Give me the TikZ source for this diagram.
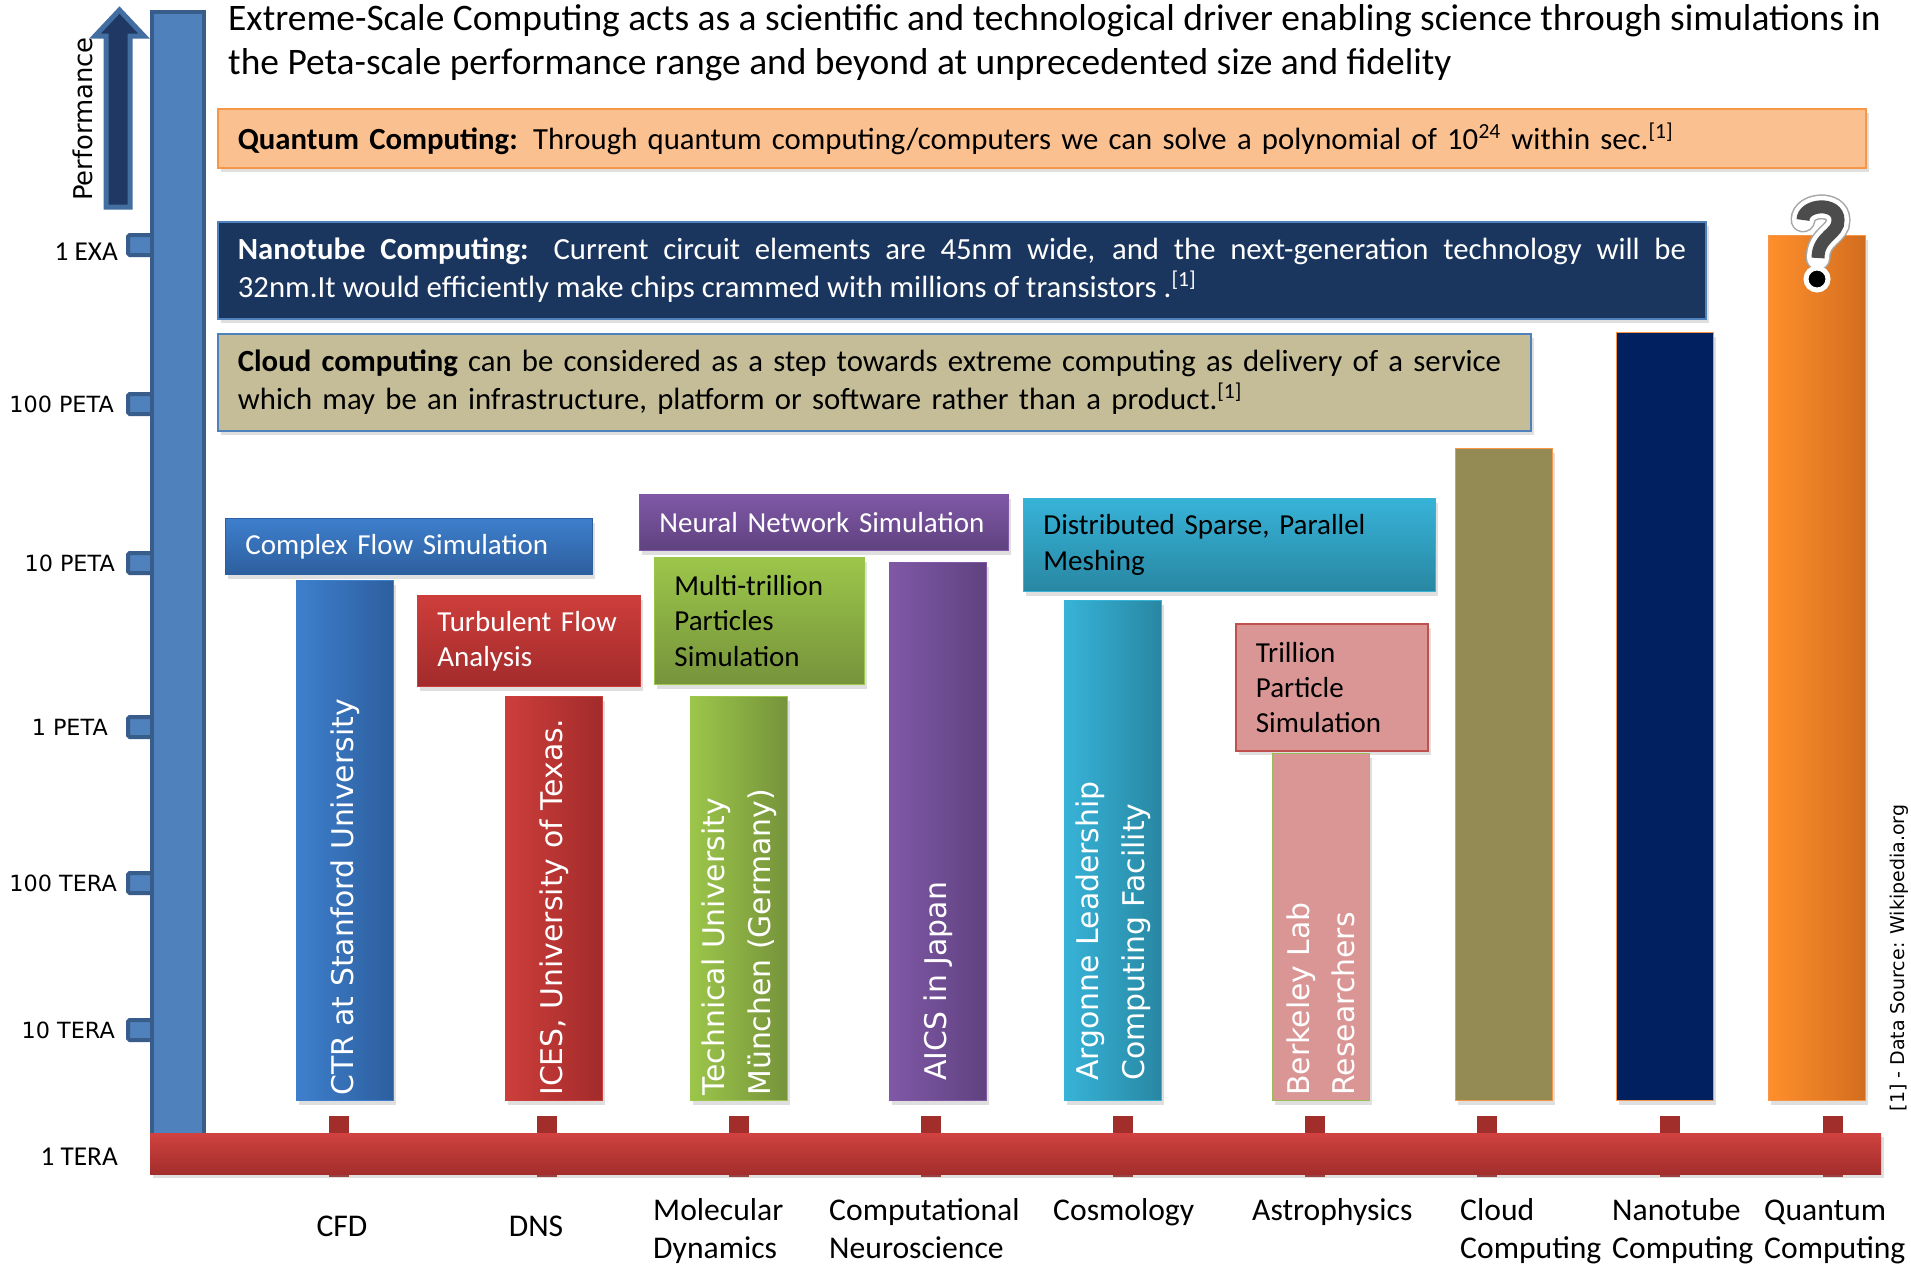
\documentclass[tikz,border=0pt]{standalone}
\usepackage{fontspec}
\setmainfont{Carlito}
\newfontfamily\verd{DejaVu Sans}
\usetikzlibrary{shadows}

\definecolor{axisblue}{HTML}{4F81BD}
\definecolor{axisline}{HTML}{385D8A}
\definecolor{perfnavy}{HTML}{1F3864}
\definecolor{quantfill}{HTML}{FAC090}
\definecolor{quantline}{HTML}{F79646}
\definecolor{nanofill}{HTML}{1B365E}
\definecolor{cloudfill}{HTML}{C4BD97}
\definecolor{cfdA}{HTML}{3E7FCD}
\definecolor{cfdB}{HTML}{2D5F9E}
\definecolor{dnsA}{HTML}{CD3E3B}
\definecolor{dnsB}{HTML}{A22B2B}
\definecolor{molA}{HTML}{9CC64A}
\definecolor{molB}{HTML}{76933B}
\definecolor{neuA}{HTML}{8058A6}
\definecolor{neuB}{HTML}{5F4280}
\definecolor{cosA}{HTML}{37B3D8}
\definecolor{cosB}{HTML}{2887A2}
\definecolor{astro}{HTML}{D99694}
\definecolor{astroline}{HTML}{C0504D}
\definecolor{leaf}{HTML}{9BBB59}
\definecolor{cloudbar}{HTML}{948A54}
\definecolor{nanobar}{HTML}{002060}
\definecolor{qA}{HTML}{FF8F2B}
\definecolor{qB}{HTML}{D26D1F}
\definecolor{railA}{HTML}{D0423F}
\definecolor{railB}{HTML}{A22E2C}

\tikzset{
	softshadow/.style={drop shadow={opacity=.25,shadow xshift=1.5pt,shadow yshift=-2.5pt}},
	panel/.style={softshadow,anchor=north west,inner xsep=4mm,inner ysep=0pt,align=left,font=\fontsize{16.5}{20}\selectfont,line width=.5pt},
	wide/.style={panel,font=\fontsize{17.5}{21.5}\selectfont,line width=1pt},
	tower/.style={softshadow,anchor=south west,minimum width=19.4mm,inner sep=0pt,line width=.5pt},
	towertext/.style={rotate=90,anchor=west,inner sep=0pt,text=white,align=left,font=\verd\fontsize{17}{26}\selectfont},
	level/.style={anchor=east,font=\verd\fontsize{12.7}{15}\selectfont},
	field/.style={anchor=base west,align=left,font=\fontsize{18}{21.6}\selectfont}
}

\begin{document}
\begin{tikzpicture}[x=.2mm,y=-.2mm]
	\useasboundingbox (0,0) rectangle (1911,1270);
	\fill[white] (0,0) rectangle (1911,1270);

	% performance axis
	\draw[axisblue!85!black,fill=perfnavy,line width=1mm] (106,207) -- (106,36) -- (95,36) -- (119.5,10) -- (144,36) -- (130,36) -- (130,207) -- cycle;
	\node[rotate=90,font=\verd\fontsize{14.7}{17}\selectfont] (perf) at (83,119) {Performance};
	\foreach \y in {245,404,563,727,883,1030}
		\draw[axisline,fill=axisblue,line width=.8mm,rounded corners=1pt] (128,\y-10) rectangle (156,\y+10);
	\draw[axisline,fill=axisblue,line width=.8mm] (152,12) rectangle (204,1150);
	\node[anchor=east,font=\fontsize{15.5}{18}\selectfont] (exa) at (124,252) {1 EXA};
	\foreach \y/\r/\t[count=\i] in {404/120/100 PETA,563/121/10 PETA,727/114/1 PETA,883/123/100 TERA,1030/121/10 TERA}
		\node[level] (lvl\i) at (\r,\y) {\t};
	\node[anchor=east,font=\fontsize{15.5}{18}\selectfont] (tera) at (124,1157) {1 TERA};

	% field axis
	\foreach \x in {339,547,739,931,1123,1315,1487,1670,1833}
		\fill[railB] (\x-10,1116) rectangle (\x+10,1177);
	\path[top color=railA,bottom color=railB,softshadow] (150,1133) rectangle (1881,1174);

	\node[anchor=base west,align=left,font=\fontsize{21.3}{25}\selectfont] (title) at (222,74) {Extreme-Scale Computing acts as a scientific and technological driver enabling science through simulations in\\the Peta-scale performance range and beyond at unprecedented size and fidelity};

	\node[wide,fill=quantfill,draw=quantline,minimum height=11.8mm,text width=321.6mm] (qbox) at (217,108) {\textbf{Quantum Computing:} Through quantum computing/computers we can solve a polynomial of 10\textsuperscript{24} within sec.\textsuperscript{[1]}};
	\node[wide,fill=nanofill,draw=axisblue,text=white,minimum height=19.4mm,text width=289.6mm,align=justify] (nbox) at (217,221) {\textbf{Nanotube Computing:} Current circuit elements are 45nm wide, and the next-generation technology will be\linebreak 32nm.It would efficiently make chips crammed with millions of transistors .\textsuperscript{[1]}};
	\node[wide,fill=cloudfill,draw=axisblue,minimum height=19.4mm,text width=254.6mm] (cbox) at (217,333) {\textbf{Cloud computing} can be considered as a step towards extreme computing as delivery of a service\\which may be an infrastructure, platform or software rather than a product.\textsuperscript{[1]}};

	\node[panel,top color=cfdA,bottom color=cfdB,draw=cfdB,text=white,minimum height=11.2mm,text width=65.4mm] (flow) at (225,518) {Complex Flow Simulation};
	\node[panel,top color=dnsA,bottom color=dnsB,draw=dnsA,text=white,minimum height=18.2mm,text width=36.6mm] (turb) at (417,595) {Turbulent Flow\\Analysis};
	\node[panel,top color=neuA,bottom color=neuB,draw=neuA,text=white,minimum height=11.2mm,text width=65.8mm] (neural) at (639,494) {Neural Network Simulation};
	\node[panel,top color=molA,bottom color=molB,draw=molA,minimum height=25.4mm,text width=34mm] (multi) at (654,557) {Multi-trillion\\Particles\\Simulation};
	\node[panel,top color=cosA,bottom color=cosB,draw=cosA,minimum height=18.6mm,text width=74.4mm] (mesh) at (1023,498) {Distributed Sparse, Parallel\\Meshing};
	\node[panel,fill=astro,draw=astroline,line width=1pt,minimum height=25.4mm,text width=30.4mm] (trill) at (1235,623) {Trillion\\Particle\\Simulation};

	% towers
	\foreach \nm/\x/\yt/\lc/\rc/\bc/\up/\txt in {ctr/296/581/cfdA/cfdB/cfdA/1/{CTR at Stanford University},
			ices/505/697/dnsA/dnsB/dnsA/1/{ICES, University of Texas.},
			tum/690/697/molA/molB/molA/1/{Technical University\\München (Germany)},
			aics/889/563/neuA/neuB/neuA/4/{AICS in Japan},
			anl/1064/601/cosA/cosB/cosA/4/{Argonne Leadership\\Computing Facility},
			lbl/1272/754/astro/astro/leaf/1/{Berkeley Lab\\Researchers}}{
		\node[tower,left color=\lc,right color=\rc,draw=\bc,minimum height={(1101-\yt)*0.2mm}] (\nm) at (\x,1101) {};
		\node[towertext] (\nm txt) at ([yshift=\up mm]\nm.south) {\txt};
	}
	\foreach \nm/\x/\yt/\lc/\rc in {cloud/1455/449/cloudbar/cloudbar,nano/1616/333/nanobar/nanobar,quant/1768/236/qA/qB}
		\node[tower,left color=\lc,right color=\rc,draw=quantline,minimum height={(1101-\yt)*0.2mm}] (\nm) at (\x,1101) {};

	% question mark
	\draw[gray!70,line width=5mm,line cap=round] (1803,220) .. controls (1803,204) and (1838,201) .. (1838,220) .. controls (1839,234) and (1818,236) .. (1818,258);
	\draw[white,line width=4.4mm,line cap=round] (1803,220) .. controls (1803,204) and (1838,201) .. (1838,220) .. controls (1839,234) and (1818,236) .. (1818,258);
	\draw[black!70,line width=2.6mm] (1803,220) .. controls (1803,204) and (1838,201) .. (1838,220) .. controls (1839,234) and (1818,236) .. (1818,258);
	\filldraw[fill=black,draw=white,line width=1mm] (1817,279) circle (2.2mm);

	\node[anchor=base,font=\fontsize{18}{21.6}\selectfont] (cfd) at (342,1236) {CFD};
	\node[anchor=base,font=\fontsize{18}{21.6}\selectfont] (dns) at (536,1236) {DNS};
	\foreach \x/\y/\t[count=\i] in {647/1258/{Molecular\\Dynamics},823/1258/{Computational\\Neuroscience},1047/1220/Cosmology,1246/1220/Astrophysics,1454/1258/{Cloud\\Computing},1606/1258/{Nanotube\\Computing},1758/1258/{Quantum\\Computing}}
		\node[field] (field\i) at (\x,\y) {\t};

	\node[rotate=90,font=\verd\fontsize{10.8}{13}\selectfont] (src) at (1899,958) {[1] - Data Source: Wikipedia.org};
\end{tikzpicture}
\end{document}
